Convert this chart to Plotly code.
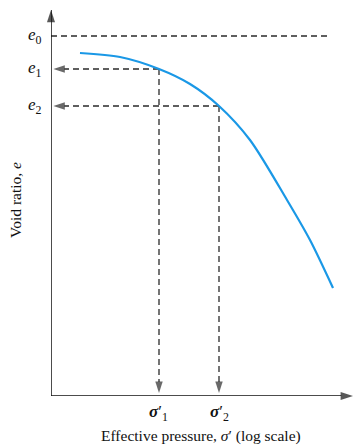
import plotly.graph_objects as go

# Data (arbitrary units: x ~ log effective pressure, y ~ void ratio)
curve_x = [0.96, 2.285, 3.576, 4.603, 5.563, 6.589, 7.815, 8.576, 9.338]
curve_y = [8.886, 8.782, 8.472, 8.083, 7.513, 6.632, 5.078, 4.041, 2.798]
e_levels = {"e0": 9.326, "e1": 8.472, "e2": 7.513}
sigma_levels = {"s1": 3.576, "s2": 5.563}
e0_line_end = 9.238

X_RANGE = [0, 10]
Y_RANGE = [0, 10]

DASH_COLOR = "#2a2a2a"
SERIF = "Liberation Serif"

# plot area geometry (pixels)
L, R, T, B = 51, 2, 10, 50
W, H = 355, 446
PW, PH = W - L - R, H - T - B


def px_x(px):
    return (px - L) / PW


def px_y(py):
    return (H - B - py) / PH


def data_to_paper_y(v):
    return (v - Y_RANGE[0]) / (Y_RANGE[1] - Y_RANGE[0])


def data_to_paper_x(v):
    return (v - X_RANGE[0]) / (X_RANGE[1] - X_RANGE[0])


fig = go.Figure()


def arrow_line(xs, ys, color, width, dash=None, head=12):
    fig.add_trace(go.Scatter(
        x=xs, y=ys, mode="lines+markers", cliponaxis=False, hoverinfo="skip",
        line=dict(color=color, width=width, dash=dash),
        marker=dict(symbol="arrow", angleref="previous", size=[0] * (len(xs) - 1) + [head],
                    color=color, line=dict(width=0)),
    ))


dash = "6px,4px"
# e0 reference line
fig.add_trace(go.Scatter(x=[X_RANGE[0], e0_line_end], y=[e_levels["e0"]] * 2,
                         mode="lines", line=dict(color=DASH_COLOR, width=1.3, dash=dash),
                         hoverinfo="skip"))

# guide lines from curve points
for sx, ey in [(sigma_levels["s1"], e_levels["e1"]), (sigma_levels["s2"], e_levels["e2"])]:
    arrow_line([sx, 0.08], [ey, ey], DASH_COLOR, 1.3, dash, 12)
    arrow_line([sx, sx], [ey, 0.08], DASH_COLOR, 1.3, dash, 12)

# axes with arrows
arrow_line([0, 0], [0, Y_RANGE[1]], "#111111", 1.5, None, 13)
arrow_line([0, X_RANGE[1]], [0, 0], "#111111", 1.5, None, 13)

# curve
fig.add_trace(go.Scatter(x=curve_x, y=curve_y, mode="lines",
                         line=dict(color="#1a98e6", width=2.2, shape="spline", smoothing=0.8),
                         hoverinfo="skip"))

annotations = []
# e labels
for key, sub in [("e0", "0"), ("e1", "1"), ("e2", "2")]:
    annotations.append(dict(x=px_x(44), y=data_to_paper_y(e_levels[key]), xref="paper", yref="paper",
                            xanchor="right", yanchor="middle", showarrow=False,
                            text=f"<i>e</i><sub>{sub}</sub>",
                            font=dict(family=SERIF, size=17, color="#111")))
# sigma labels
for key, sub in [("s1", "1"), ("s2", "2")]:
    annotations.append(dict(x=data_to_paper_x(sigma_levels[key]), y=px_y(413), xref="paper",
                            yref="paper", xanchor="center", yanchor="middle", showarrow=False,
                            text=f"<b><i>σ</i></b>′<sub>{sub}</sub>",
                            font=dict(family=SERIF, size=17, color="#111")))

# axis titles
annotations.append(dict(x=px_x(201), y=px_y(436), xref="paper", yref="paper", xanchor="center",
                        yanchor="middle", showarrow=False,
                        text="Effective pressure, <i>σ</i>′ (log scale)",
                        font=dict(family=SERIF, size=15.5, color="#111")))
annotations.append(dict(x=px_x(15), y=px_y(200), xref="paper", yref="paper", xanchor="center",
                        yanchor="middle", showarrow=False, textangle=-90,
                        text="Void ratio, <i>e</i>",
                        font=dict(family=SERIF, size=15.5, color="#111")))

fig.update_layout(annotations=annotations)
fig.update_xaxes(range=X_RANGE, visible=False, fixedrange=True)
fig.update_yaxes(range=Y_RANGE, visible=False, fixedrange=True)
fig.update_layout(width=W, height=H, showlegend=False,
                  margin=dict(l=L, r=R, t=T, b=B),
                  paper_bgcolor="white", plot_bgcolor="white")

fig.write_html("out.html")
